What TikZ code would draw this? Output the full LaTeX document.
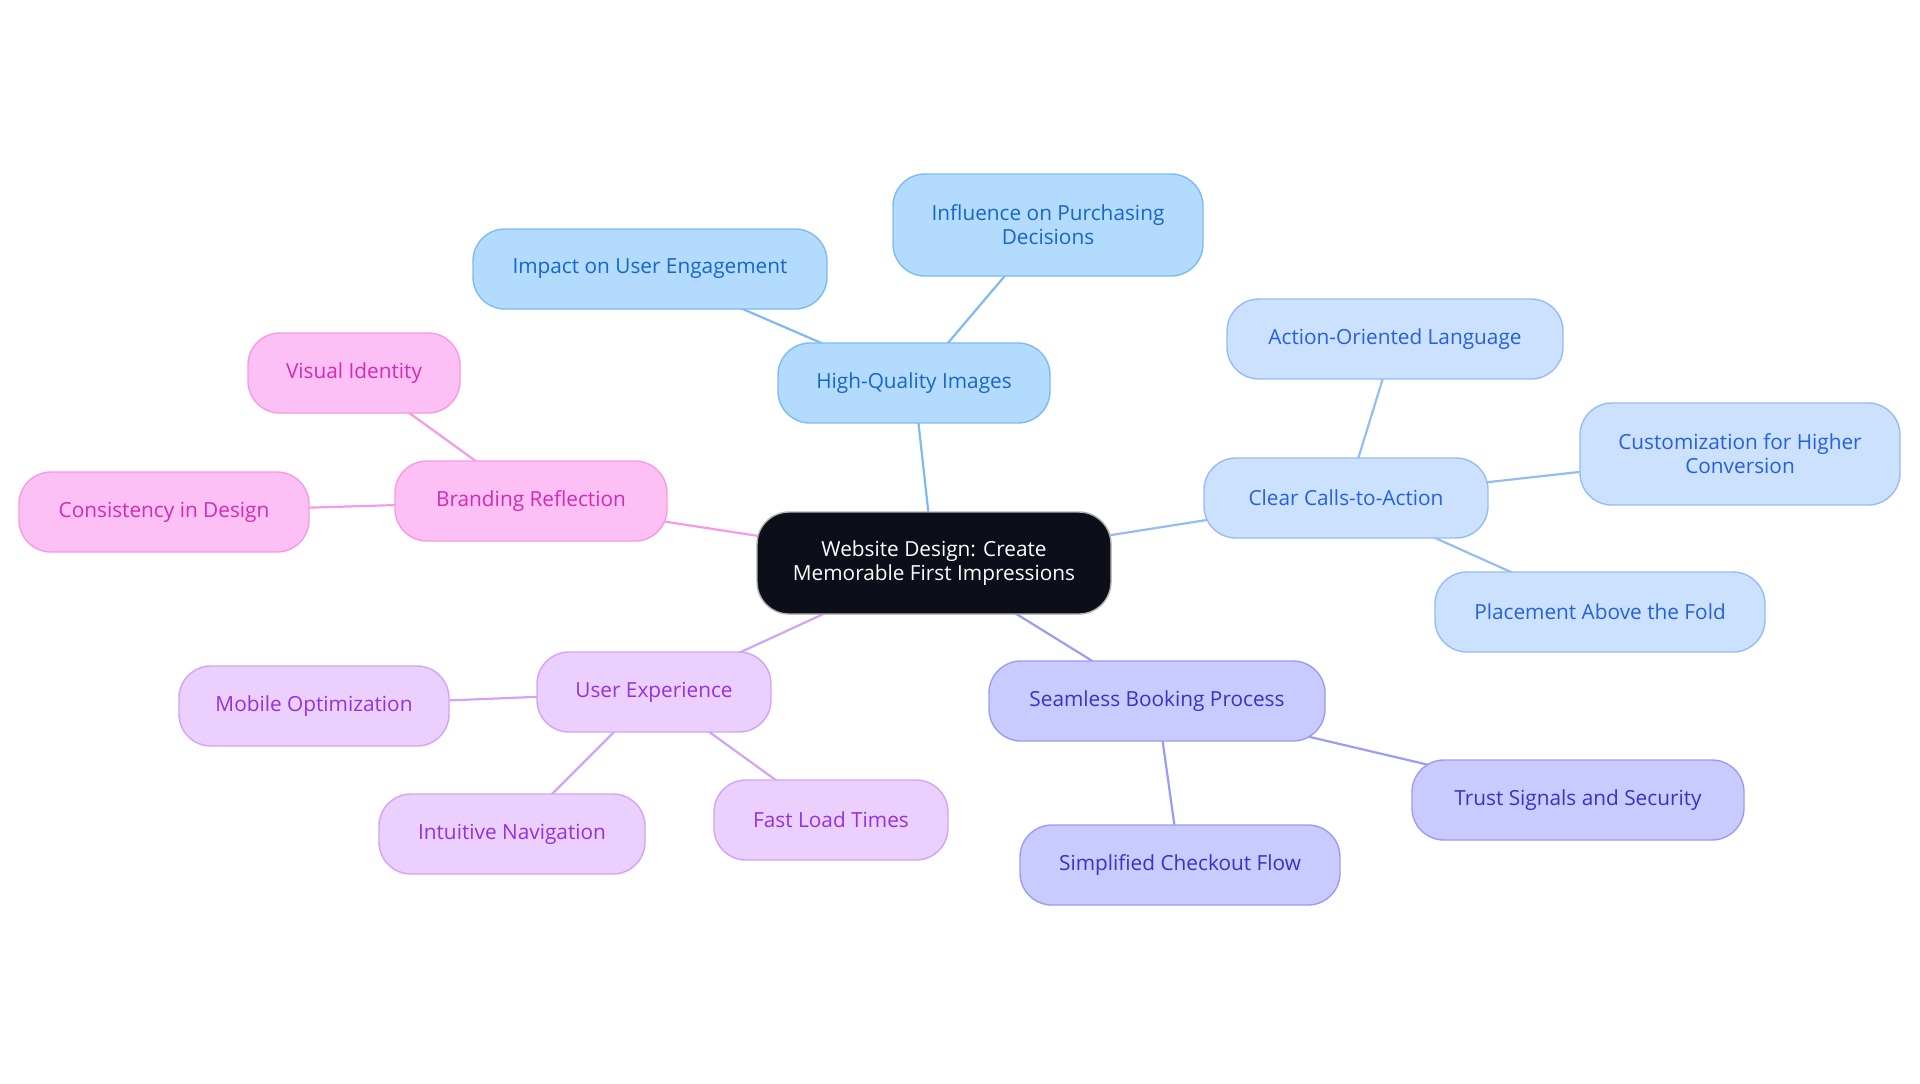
\documentclass[tikz,border=0pt]{standalone}
\usepackage{fontspec}
\setmainfont{Open Sans}
\usetikzlibrary{backgrounds}
\definecolor{hqfill}{HTML}{B3DBFD}
\definecolor{hqdraw}{HTML}{7DBBF4}
\definecolor{hqtext}{HTML}{1766C8}
\definecolor{ctafill}{HTML}{CCE1FE}
\definecolor{ctadraw}{HTML}{96BDF3}
\definecolor{ctatext}{HTML}{2560E0}
\definecolor{sbfill}{HTML}{C9CAFD}
\definecolor{sbdraw}{HTML}{9A9CF5}
\definecolor{sbtext}{HTML}{3A32C8}
\definecolor{uxfill}{HTML}{EBD0FD}
\definecolor{uxdraw}{HTML}{D2A4F6}
\definecolor{uxtext}{HTML}{9531E0}
\definecolor{brfill}{HTML}{FDC0F4}
\definecolor{brdraw}{HTML}{F59AE6}
\definecolor{brtext}{HTML}{D42AB5}
\definecolor{rootfill}{HTML}{0C0F1A}

\begin{document}
\begin{tikzpicture}[x=0.5pt,y=-0.5pt,
  box/.style={draw, rounded corners=16pt, line width=0.7pt, inner xsep=14pt,
    minimum height=40pt, align=center, font=\fontsize{10.4}{12}\selectfont},
  hq/.style={box, fill=hqfill, draw=hqdraw, text=hqtext},
  cta/.style={box, fill=ctafill, draw=ctadraw, text=ctatext},
  sb/.style={box, fill=sbfill, draw=sbdraw, text=sbtext},
  ux/.style={box, fill=uxfill, draw=uxdraw, text=uxtext},
  br/.style={box, fill=brfill, draw=brdraw, text=brtext},
  link/.style={line width=1.1pt}]
  \useasboundingbox (0,0) rectangle (1920,1083);

  \node[box, fill=rootfill, draw=gray!60, text=white, minimum width=177pt, minimum height=51pt] (root) at (934,563) {Website Design: Create\\Memorable First Impressions};

  \node[hq, minimum width=136pt] (images) at (914,383) {High-Quality Images};
  \node[hq, minimum width=177pt] (engage) at (650,269) {Impact on User Engagement};
  \node[hq, minimum width=155pt, minimum height=51pt] (purchase) at (1048,225) {Influence on Purchasing\\Decisions};

  \node[cta, minimum width=142pt] (calls) at (1346,498) {Clear Calls-to-Action};
  \node[cta, minimum width=168pt] (language) at (1395,339) {Action-Oriented Language};
  \node[cta, minimum width=160pt, minimum height=51pt] (custom) at (1740,454) {Customization for Higher\\Conversion};
  \node[cta, minimum width=165pt] (fold) at (1600,612) {Placement Above the Fold};

  \node[sb, minimum width=168pt] (booking) at (1157,701) {Seamless Booking Process};
  \node[sb, minimum width=166pt] (trust) at (1578,800) {Trust Signals and Security};
  \node[sb, minimum width=160pt] (checkout) at (1180,865) {Simplified Checkout Flow};

  \node[ux, minimum width=117pt] (ux) at (654,692) {User Experience};
  \node[ux, minimum width=135pt] (mobile) at (314,706) {Mobile Optimization};
  \node[ux, minimum width=133pt] (nav) at (512,834) {Intuitive Navigation};
  \node[ux, minimum width=117pt] (load) at (831,820) {Fast Load Times};

  \node[br, minimum width=136pt] (brand) at (531,501) {Branding Reflection};
  \node[br, minimum width=106pt] (visual) at (354,373) {Visual Identity};
  \node[br, minimum width=145pt] (consist) at (164,512) {Consistency in Design};

  % connectors, centre to centre behind the boxes
  \begin{pgfonlayer}{background}
  \draw[link, hqdraw] (root.center) -- (images.center);
  \draw[link, hqdraw] (images.center) -- (engage.center);
  \draw[link, hqdraw] (images.center) -- (purchase.center);
  \draw[link, ctadraw] (root.center) -- (calls.center);
  \draw[link, ctadraw] (calls.center) -- (language.center);
  \draw[link, ctadraw] (calls.center) -- (custom.center);
  \draw[link, ctadraw] (calls.center) -- (fold.center);
  \draw[link, sbdraw] (root.center) -- (booking.center);
  \draw[link, sbdraw] (booking.center) -- (trust.center);
  \draw[link, sbdraw] (booking.center) -- (checkout.center);
  \draw[link, uxdraw] (root.center) -- (ux.center);
  \draw[link, uxdraw] (ux.center) -- (mobile.center);
  \draw[link, uxdraw] (ux.center) -- (nav.center);
  \draw[link, uxdraw] (ux.center) -- (load.center);
  \draw[link, brdraw] (root.center) -- (brand.center);
  \draw[link, brdraw] (brand.center) -- (visual.center);
  \draw[link, brdraw] (brand.center) -- (consist.center);
  \end{pgfonlayer}
\end{tikzpicture}
\end{document}
